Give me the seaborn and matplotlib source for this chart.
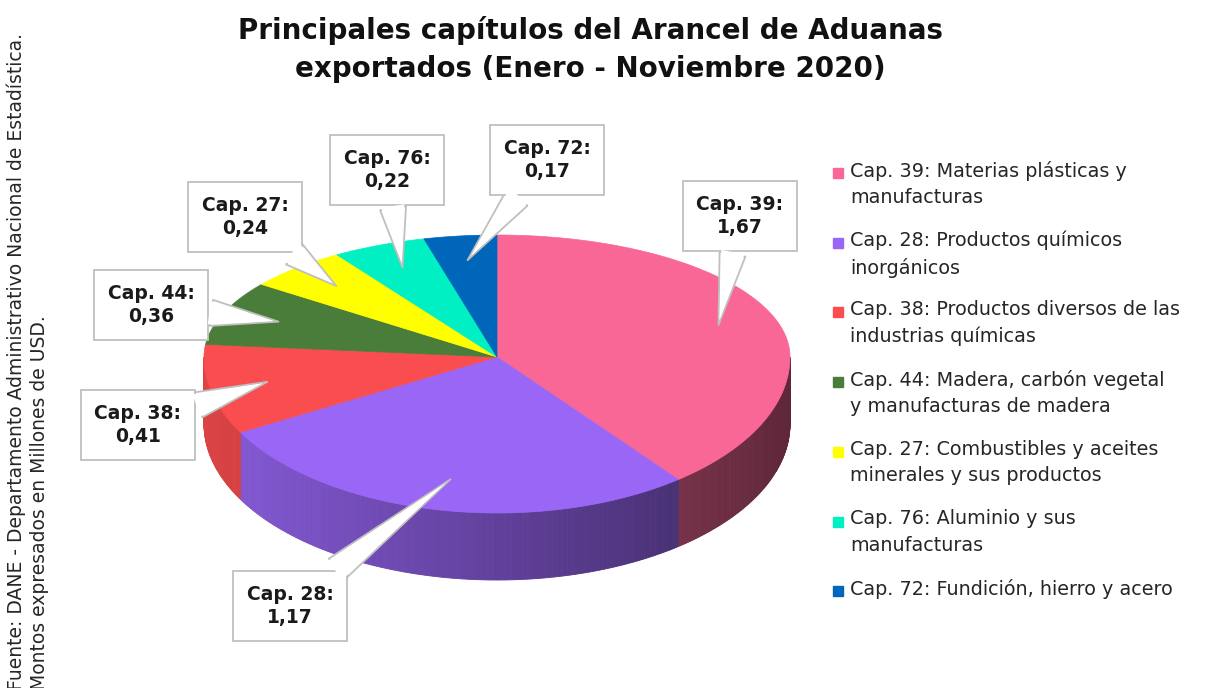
import numpy as np
import seaborn as sns
import matplotlib.pyplot as plt
from matplotlib.colors import to_rgb
from matplotlib.patches import Rectangle

# Data (millions of USD)
caps = ['Cap. 39', 'Cap. 28', 'Cap. 38', 'Cap. 44', 'Cap. 27', 'Cap. 76', 'Cap. 72']
values = [1.67, 1.17, 0.41, 0.36, 0.24, 0.22, 0.17]
legend_labels = [
    'Cap. 39: Materias plásticas y\nmanufacturas',
    'Cap. 28: Productos químicos\ninorgánicos',
    'Cap. 38: Productos diversos de las\nindustrias químicas',
    'Cap. 44: Madera, carbón vegetal\ny manufacturas de madera',
    'Cap. 27: Combustibles y aceites\nminerales y sus productos',
    'Cap. 76: Aluminio y sus\nmanufacturas',
    'Cap. 72: Fundición, hierro y acero',
]
colors = ['#F96797', '#9966F6', '#F94D4F', '#4B7D3A', '#FFFF00', '#00F0C3', '#0066BA']

# layout of the callout boxes (pixel coords, y down)
box_pos = [(740, 216), (290, 606), (138, 425), (151, 305), (245, 217), (387, 170), (547, 160)]

sns.set_theme(style='white')
plt.rcParams['font.family'] = ['DejaVu Sans']

fig = plt.figure(figsize=(12.05, 6.88), dpi=100)
ax = fig.add_axes([0, 0, 1, 1])
ax.set_xlim(0, 1205)
ax.set_ylim(688, 0)
ax.axis('off')

# pseudo 3D pie geometry
cx, cy = 497, 357
a, b_back, b_front = 293, 122, 156
depth = 67


def proj(theta, r=1.0):
    th = np.radians(theta)
    s = np.sin(th)
    b = np.where(s > 0, b_back, b_front)
    return cx + a * r * np.cos(th), cy - b * r * s


fracs = np.array(values) / sum(values) * 360
ends = 90 - np.cumsum(fracs)
starts = ends + fracs

# side faces (front half only), shaded left -> right
for s0, e0, col in zip(starts, ends, colors):
    lo, hi = max(e0, -180), min(s0, 0)
    if lo >= hi:
        lo, hi = max(e0 + 360, -180), min(s0 + 360, 0)
        if lo >= hi:
            continue
    angs = np.linspace(hi, lo, max(int((hi - lo) * 2), 2))
    base = np.array(to_rgb(col))
    for t0, t1 in zip(angs[:-1], angs[1:]):
        x0, y0 = proj(t0)
        x1, y1 = proj(t1)
        xm = (x0 + x1) / 2
        f = 0.88 - 0.5 * (xm - (cx - a)) / (2 * a)
        c = base * f
        ax.fill([x0, x1, x1, x0], [y0, y1, y1 + depth, y0 + depth],
                color=c, ec=c, lw=0.6, zorder=1)

# top faces
for s0, e0, col in zip(starts, ends, colors):
    angs = np.linspace(s0, e0, 200)
    xs, ys = proj(angs)
    ax.fill(np.r_[cx, xs], np.r_[cy, ys], color=col, ec=col, lw=0.5, zorder=2)

# callouts
mids = (starts + ends) / 2
for cap, v, m, (bx, by) in zip(caps, values, mids, box_pos):
    tx, ty = proj(m, 0.8)
    txt = f'{cap}:\n' + f'{v:.2f}'.replace('.', ',')
    kw = dict(xy=(tx, ty), xytext=(bx, by), ha='center', va='center',
              fontsize=13.5, fontweight='bold', linespacing=1.3)
    ax.annotate(txt, color='#1a1a1a',
                bbox=dict(boxstyle='square,pad=0.72', fc='white', ec='#BFBFBF', lw=1.3),
                arrowprops=dict(arrowstyle='wedge,tail_width=1.4,shrink_factor=0.5',
                                fc='white', ec='#BFBFBF', lw=1.3, shrinkB=0),
                zorder=5, **kw)
    # white fill over the box edge where the pointer joins
    ax.annotate(txt, color='none',
                bbox=dict(boxstyle='square,pad=0.72', fc='none', ec='none', lw=1.3),
                arrowprops=dict(arrowstyle='wedge,tail_width=1.25,shrink_factor=0.5',
                                fc='white', ec='none', shrinkA=-1, shrinkB=4),
                zorder=6, **kw)

# legend
for i, (lab, col) in enumerate(zip(legend_labels, colors)):
    y = 173 + i * 69.7
    ax.add_patch(Rectangle((833, y - 5), 10, 10, color=col, zorder=5))
    ax.text(850, y - 12, lab, ha='left', va='top', fontsize=13.8,
            color='#262626', linespacing=1.48)

ax.text(590, 16, 'Principales capítulos del Arancel de Aduanas\nexportados (Enero - Noviembre 2020)',
        ha='center', va='top', fontsize=20, fontweight='bold', color='#111111',
        linespacing=1.45)

ax.text(6, 690, 'Fuente: DANE - Departamento Administrativo Nacional de Estadística.\n'
        'Montos expresados en Millones de USD.', rotation=90, ha='left', va='bottom',
        fontsize=13.5, color='#262626', linespacing=1.3)

fig.savefig('out.png', dpi=100)
